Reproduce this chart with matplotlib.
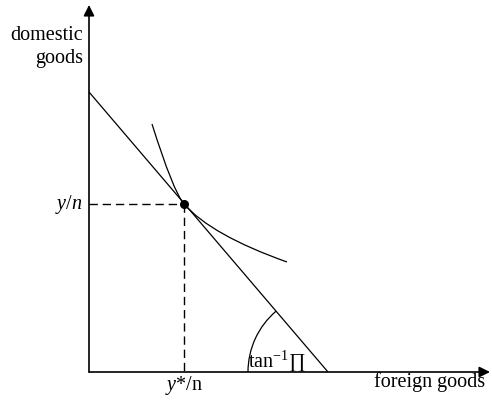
import numpy as np
import matplotlib
matplotlib.use('Agg')
import matplotlib.pyplot as plt
from matplotlib.path import Path
from matplotlib.patches import PathPatch, Arc

plt.rcParams['font.family'] = ['Liberation Serif', 'DejaVu Serif']
plt.rcParams['mathtext.fontset'] = 'custom'
plt.rcParams['mathtext.rm'] = 'Liberation Serif'
plt.rcParams['mathtext.it'] = 'Liberation Serif:italic'

# budget line end points (foreign goods, domestic goods)
budget_x = [0, 239]
budget_y = [280, 0]
# tangency point
opt_x = 95
opt_y = 168
# indifference curve: two quadratic pieces (start, ctrl, tangency, ctrl, end)
curve_x = [63, 84, 95, 122, 198]
curve_y = [248, 181, 168, 137, 110]
x_axis_end = 401
y_axis_end = 367
arc_radius = 80

fig = plt.figure(figsize=(4.92, 4.0), dpi=100)
ax = fig.add_axes([0, 0, 1, 1])
ax.set_xlim(-89, 403)
ax.set_ylim(-28, 372)
ax.axis('off')

# axes with arrows
arrow = dict(arrowstyle='-|>', mutation_scale=16, lw=1.2, color='black',
             shrinkA=0, shrinkB=0)
ax.annotate('', xy=(x_axis_end, 0), xytext=(0, 0), arrowprops=arrow)
ax.annotate('', xy=(0, y_axis_end), xytext=(0, 0), arrowprops=arrow)

# budget line
ax.plot(budget_x, budget_y, color='black', lw=0.9, solid_capstyle='butt')

# indifference curve
verts = list(zip(curve_x, curve_y))
codes = [Path.MOVETO, Path.CURVE3, Path.CURVE3, Path.CURVE3, Path.CURVE3]
ax.add_patch(PathPatch(Path(verts, codes), fill=False, lw=0.9, color='black'))

# dashed guides
ax.plot([0, opt_x], [opt_y, opt_y], color='black', lw=1.0, dashes=(6, 3.5))
ax.plot([opt_x, opt_x], [opt_y, 0], color='black', lw=1.0, dashes=(6, 3.5))
ax.plot(opt_x, opt_y, 'o', color='black', ms=5.5)

# angle arc
ang = np.degrees(np.arctan2(budget_y[0] - budget_y[1], budget_x[1] - budget_x[0]))
ax.add_patch(Arc((budget_x[1], 0), 2 * arc_radius, 2 * arc_radius,
                 theta1=180 - ang, theta2=180, lw=0.9, color='black'))

fs = 14.5
ax.text(-6, 332, 'domestic', ha='right', va='baseline', fontsize=fs)
ax.text(-6, 309, 'goods', ha='right', va='baseline', fontsize=fs)
ax.text(396, -15, 'foreign goods', ha='right', va='baseline', fontsize=fs)
ax.text(-7, 163, r'$y/n$', ha='right', va='baseline', fontsize=fs)
ax.text(opt_x, -18, r'$y$*$/$n', ha='center', va='baseline', fontsize=fs)
ax.text(159, 6, r'tan$^{\mathrm{-1}}$' + '\u220f', ha='left', va='baseline',
        fontsize=fs)

fig.savefig('out.png', dpi=100)
